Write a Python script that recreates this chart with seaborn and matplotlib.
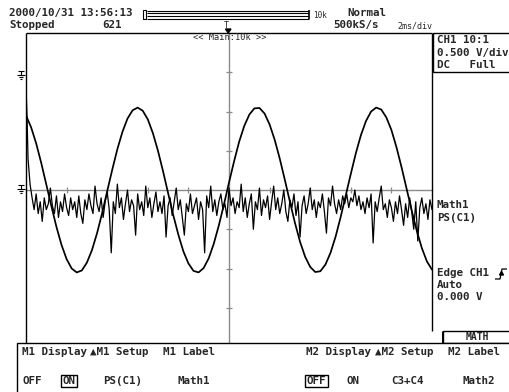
import numpy as np
import pandas as pd
import matplotlib
matplotlib.use("Agg")
import matplotlib.pyplot as plt
import seaborn as sns
from matplotlib.patches import Rectangle, Polygon

# =============================================================================
# DATA (x in ms, y in divisions)
# =============================================================================
c1_time = np.linspace(-10.0, 10.0, 81)
c1_divs = [
    1.90, 1.60, 1.19, 0.69, 0.14, -0.41, -0.94, -1.40, -1.76, -2.00,
    -2.10, -2.05, -1.85, -1.53, -1.10, -0.59, -0.03, 0.52, 1.04, 1.48,
    1.82, 2.03, 2.10, 2.02, 1.80, 1.45, 1.00, 0.48, -0.08, -0.63,
    -1.13, -1.56, -1.87, -2.06, -2.10, -1.99, -1.74, -1.37, -0.90, -0.37,
    0.19, 0.73, 1.23, 1.63, 1.92, 2.08, 2.09, 1.95, 1.67, 1.28,
    0.80, 0.26, -0.30, -0.84, -1.32, -1.70, -1.96, -2.09, -2.07, -1.90,
    -1.60, -1.19, -0.69, -0.14, 0.41, 0.94, 1.40, 1.76, 2.00, 2.10,
    2.05, 1.85, 1.53, 1.09, 0.58, 0.03, -0.52, -1.04, -1.48, -1.82,
    -2.03,
]

# Math1 = PS(C1): start-up spike then noisy trace just under the centre line
m1_start_time = [-10.0, -9.95, -9.9, -9.8]
m1_start_divs = [2.6, 1.9, 0.8, 0.15]
m1_time = np.linspace(-9.7, 10.0, 198)
m1_divs = [
    -0.2, -0.5, -0.1, -0.6, -0.3, -0.8, -0.2, -0.5, -0.35, 0.05,
    -0.4, -0.6, -0.15, -0.7, -0.3, -0.55, -0.1, -0.45, -0.65, -0.2,
    -0.5, -0.3, -0.7, -0.15, -0.6, -0.85, -0.25, -0.5, -0.1, -0.4,
    -0.6, 0.1, -0.35, -0.55, -0.2, -0.7, -0.3, -0.05, -0.5, -1.6,
    -0.3, -0.6, 0.15, -0.45, -0.2, -0.75, -0.35, 0.0, -0.55, -0.25,
    -0.4, -1.15, -0.1, -0.5, -0.3, -0.65, 0.1, -0.45, -0.2, -0.7,
    -0.35, -0.05, -0.55, -0.3, -0.6, -0.15, -1.2, -0.4, -0.2, -0.65,
    -0.3, 0.05, -0.5, -0.25, -0.7, -1.15, -0.35, -0.55, -0.1, -0.6,
    -0.4, -0.2, -0.75, -0.3, -0.5, -1.6, -0.15, -0.45, 0.1, -0.55,
    -0.25, -0.65, -0.3, -0.1, -0.5, -0.35, -0.7, 0.05, -0.4, -0.2,
    -0.6, -0.3, -0.45, 0.15, -0.55, -0.2, -0.7, -0.35, -0.1, -1.0,
    -0.3, -0.5, 0.05, -0.65, -0.25, -0.45, -0.15, -0.75, -0.3, 0.1,
    -0.5, -0.2, -0.6, -0.35, 0.0, -0.55, -0.8, -0.25, -0.45, -0.1,
    -0.65, -0.3, -1.2, -0.4, -0.15, -0.6, -0.35, 0.05, -0.5, -0.25,
    -0.7, -0.3, -0.45, -0.1, -0.55, -1.1, -0.2, -0.4, 0.1, -0.35,
    -0.6, -0.25, -0.5, -0.15, -0.35, -0.1, -0.45, -0.2, -0.3, 0.0,
    -0.4, -0.15, -0.5, -0.3, -0.6, -0.2, -0.45, -0.1, -1.35, -0.3,
    -0.55, -0.2, 0.1, -0.5, -0.35, -0.7, -0.25, -0.45, -0.8, -0.3,
    -0.6, -0.15, -0.5, -0.9, -0.35, -0.7, -0.2, -0.55, -1.0, -0.3,
    -1.3, -0.45, -0.2, -0.6, -0.35, -0.75, -0.25, -0.5,
]

header_top = ["2000/10/31 13:56:13", "Normal"]
header_bottom = ["Stopped", "621", "500kS/s", "2ms/div"]
ch1_info = ["CH1 10:1", "0.500 V/div", "DC   Full"]
math_info = ["Math1", "PS(C1)"]
trig_info = ["Edge CH1", "Auto", "0.000 V"]
menu_titles = ["M1 Display", "\u25b2M1 Setup", "M1 Label", "",
               "M2 Display", "\u25b2M2 Setup", "M2 Label"]
menu_values = [None, "PS(C1)", "Math1", "", None, "C3+C4", "Math2"]

c1_df = pd.DataFrame({"t": c1_time, "v": c1_divs})
m1_df = pd.DataFrame({"t": np.concatenate([m1_start_time, m1_time]),
                      "v": m1_start_divs + m1_divs})

# =============================================================================
# PLOTTING
# =============================================================================
sns.set_theme(style="white")
plt.rcParams['font.family'] = ['DejaVu Sans Mono', 'DejaVu Sans']

W, H = 510, 392
fig = plt.figure(figsize=(W / 100, H / 100), dpi=100)

GRID_L, GRID_R, GRID_T, GRID_B = 26, 432, 33, 347
ax = fig.add_axes([GRID_L / W, 1 - GRID_B / H, (GRID_R - GRID_L) / W, (GRID_B - GRID_T) / H])
ax.set_zorder(1)

sns.lineplot(data=m1_df, x="t", y="v", ax=ax, color="black", lw=0.9,
             estimator=None, sort=False, legend=False)
sns.lineplot(data=c1_df, x="t", y="v", ax=ax, color="black", lw=1.25,
             estimator=None, sort=False, legend=False)

ax.set_xlim(-10, 10)
ax.set_ylim(-4, 4)
ax.set_xlabel('')
ax.set_ylabel('')
grey = '#8a8a8a'
for s in ['top', 'right']:
    ax.spines[s].set_visible(False)
for s in ['left', 'bottom']:
    ax.spines[s].set_position('zero')
    ax.spines[s].set_color(grey)
    ax.spines[s].set_linewidth(1.0)
    ax.spines[s].set_zorder(0.5)
ax.set_xticks([-8, -6, -4, -2, 2, 4, 6, 8])
ax.set_yticks([-3, -2, -1, 1, 2, 3])
ax.tick_params(direction='inout', length=4.5, width=0.9, color=grey,
               labelleft=False, labelbottom=False, left=True, bottom=True)

# overlay in pixel coordinates for the scope chrome
ov = fig.add_axes([0, 0, 1, 1])
ov.set_xlim(0, W)
ov.set_ylim(H, 0)
ov.axis('off')
ov.set_zorder(3)
ov.patch.set_alpha(0)

def line(xs, ys, lw=1.0, color='black'):
    ov.plot(xs, ys, color=color, lw=lw, solid_capstyle='butt')

def txt(x, y, s, size=7.8, weight='bold', ha='left', **kw):
    ov.text(x, y, s, fontsize=size, fontweight=weight, va='center', ha=ha, **kw)

# grid frame
line([GRID_L, GRID_R], [GRID_T, GRID_T])
line([GRID_L, GRID_L], [GRID_T, 343])
line([GRID_R, GRID_R], [GRID_T, 331])

# header
txt(9, 13, header_top[0])
txt(347, 13, header_top[1])
txt(9, 25, header_bottom[0])
txt(102, 25, header_bottom[1])
txt(333, 25, header_bottom[2])
txt(397, 26, header_bottom[3], size=6, weight='normal')

# zoom bar
ov.add_patch(Rectangle((143, 10), 3, 9, fill=False, lw=0.8, ec='black'))
for yy in [10.5, 13, 16, 18.5]:
    line([147, 309], [yy, yy], lw=0.8)
line([309, 309], [10, 19], lw=1.2)
txt(313, 15, "10k", size=5.5, weight='normal')

# trigger position marker
txt(226, 25, "T", size=6, weight='normal', ha='center')
ov.add_patch(Polygon([[225.5, 29], [231, 29], [228.2, 33]], closed=True, color='black'))
ov.text(193, 37.5, "<< Main:10k >>", fontsize=6.2, va='center', ha='left')

# left ground markers
for y0 in [75, 189]:
    line([21, 21], [y0 - 4, y0], lw=0.8)
    line([18, 24], [y0 - 4, y0 - 4], lw=0.8)
    line([17, 25], [y0, y0], lw=0.8)
    line([19, 23], [y0 + 2, y0 + 2], lw=0.8)
    line([20, 22], [y0 + 4, y0 + 4], lw=0.8)

# right info panels
ov.add_patch(Rectangle((433, 33), 80, 39, fill=False, lw=1.0, ec='black'))
for i, s in enumerate(ch1_info):
    txt(437, 40 + 12.5 * i, s)
for i, s in enumerate(math_info):
    txt(437, 205 + 13 * i, s)
for i, s in enumerate(trig_info):
    txt(437, 273 + 12 * i, s)
# rising edge symbol
line([495, 500, 502, 507], [279, 279, 269, 269], lw=0.9)
ov.add_patch(Polygon([[499.5, 275], [503.5, 275], [501.5, 271.5]], closed=True, color='black'))

# MATH header
ov.add_patch(Rectangle((443, 331), 70, 12, fc='white', ec='black', lw=1.0, zorder=4))
txt(477, 337, "MATH", size=7, ha='center', zorder=5)

# bottom soft-key menu
ov.add_patch(Rectangle((17, 343), 500, 52, fc='white', ec='black', lw=1.0, zorder=4))
for xs in [87, 158, 229, 301, 372, 443]:
    line([xs, xs], [331 if xs == 443 else 343, H], lw=2.2)
starts = [17, 87, 158, 229, 301, 372, 443]
for i, s in enumerate(menu_titles):
    x0 = starts[i]
    txt(x0 + 5 if i not in (1, 5) else x0 + 3, 352, s, zorder=5)
for i, s in enumerate(menu_values):
    if s:
        txt(starts[i] + 36, 381, s, ha='center', zorder=5)
# on/off selectors
txt(23, 381, "OFF", zorder=5)
txt(63, 381, "ON", zorder=5)
ov.add_patch(Rectangle((61, 375), 16, 12, fill=False, ec='black', lw=1.0, zorder=5))
txt(307, 381, "OFF", zorder=5)
txt(347, 381, "ON", zorder=5)
ov.add_patch(Rectangle((305, 375), 23, 12, fill=False, ec='black', lw=1.0, zorder=5))

fig.savefig("out.png", dpi=100)
plt.close(fig)
